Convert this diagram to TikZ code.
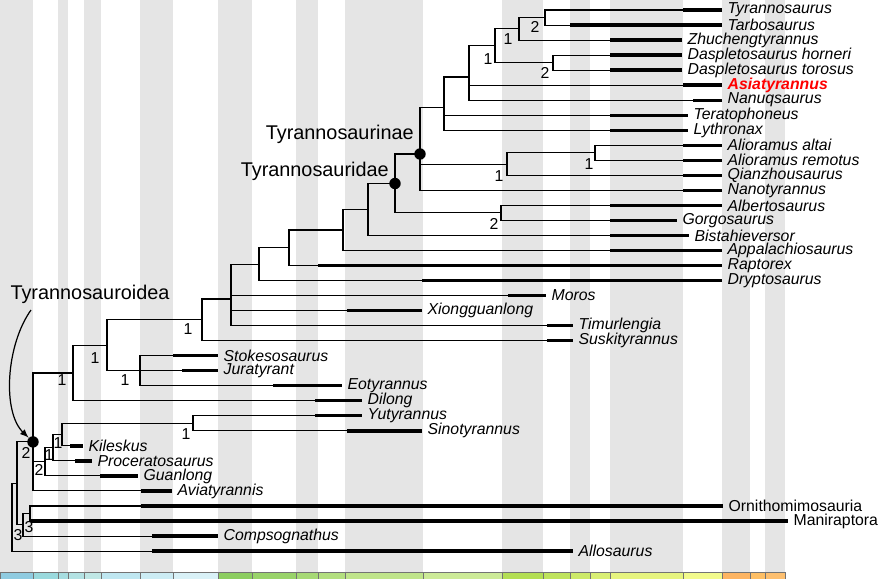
\documentclass[tikz,border=0pt]{standalone}
\usepackage{fontspec}
\setmainfont{Liberation Sans}
\usepackage{tikz}
\usetikzlibrary{positioning}
\usetikzlibrary{arrows}

\definecolor{bandgray}{HTML}{E5E5E5}
\definecolor{asiared}{HTML}{FF0000}
\definecolor{stToa}{HTML}{8FCBE0}
\definecolor{stAal}{HTML}{9AD9DD}
\definecolor{stBaj}{HTML}{A6DDE0}
\definecolor{stBat}{HTML}{B3E2E3}
\definecolor{stCal}{HTML}{BFE7E5}
\definecolor{stOxf}{HTML}{BFE7F1}
\definecolor{stKim}{HTML}{CCECF4}
\definecolor{stTit}{HTML}{D9F1F7}
\definecolor{stBer}{HTML}{8CCD60}
\definecolor{stVal}{HTML}{99D36A}
\definecolor{stHau}{HTML}{A6D975}
\definecolor{stBar}{HTML}{B3DF7F}
\definecolor{stApt}{HTML}{BFE48A}
\definecolor{stAlb}{HTML}{CCEA97}
\definecolor{stCen}{HTML}{B3DE53}
\definecolor{stTur}{HTML}{BFE35D}
\definecolor{stCon}{HTML}{CCE968}
\definecolor{stSan}{HTML}{D9EF74}
\definecolor{stCam}{HTML}{E6F47F}
\definecolor{stMaa}{HTML}{F2FA8C}
\definecolor{stDan}{HTML}{FDB462}
\definecolor{stSel}{HTML}{FEBF65}
\definecolor{stTha}{HTML}{FDBF6F}

\tikzset{
  branch/.style={line width=0.6pt},
  bar/.style={line width=1.9pt},
  taxon/.style={anchor=west, inner sep=3pt, font=\fontsize{9}{10}\selectfont\itshape},
  taxonred/.style={taxon, text=asiared, font=\fontsize{9}{10}\selectfont\bfseries\itshape},
  group/.style={anchor=west, inner sep=3pt, font=\fontsize{9}{10}\selectfont},
  support/.style={inner sep=0pt, font=\fontsize{9}{10}\selectfont},
  cladename/.style={inner sep=0pt, font=\fontsize{11.3}{12}\selectfont},
  cladedot/.style={circle, fill=black, inner sep=0pt, minimum size=6.5pt},
  stage/.style={draw=black!55, line width=0.3pt},
}

\begin{document}
\begin{tikzpicture}[x=0.02cm, y=-0.02cm]
  \useasboundingbox (0,0) rectangle (885,578);
  % stage bands and time scale
  \foreach \a/\b in {0/33, 58/68, 84/101, 140/173, 218/252, 296/318, 345/423, 502/543, 570/590, 610/683, 722/750, 765/785}
    \fill[bandgray] (\a,0) rectangle (\b,572);
  \foreach \a/\b/\c in {0/33/stToa, 33/58/stAal, 58/68/stBaj, 68/84/stBat, 84/101/stCal, 101/140/stOxf, 140/173/stKim, 173/218/stTit, 218/252/stBer, 252/296/stVal, 296/318/stHau, 318/345/stBar, 345/423/stApt, 423/502/stAlb, 502/543/stCen, 543/570/stTur, 570/590/stCon, 590/610/stSan, 610/683/stCam, 683/722/stMaa, 722/750/stDan, 750/765/stSel, 765/785/stTha}
    \draw[stage, fill=\c] (\a,572) rectangle (\b,582);

  % internal nodes
  \coordinate (tyrtarb) at (545,17.5);
  \coordinate (tyrzhu) at (519,28.8);
  \coordinate (daspl) at (553,62.6);
  \coordinate (tyrdasp) at (495,45.7);
  \coordinate (tyrasia) at (469,77.0);
  \coordinate (tyrterato) at (444,107.5);
  \coordinate (alior) at (595,152.8);
  \coordinate (aliorqz) at (507,164.1);
  \coordinate (tyrinae) at (420,154.0);
  \coordinate (albinae) at (501,212.9);
  \coordinate (tyridae) at (395,183.5);
  \coordinate (bistah) at (368,209.5);
  \coordinate (appal) at (343,230.0);
  \coordinate (raptor) at (289,247.8);
  \coordinate (drypto) at (259,264.2);
  \coordinate (moroscl) at (231,299.0);
  \coordinate (susk) at (202,319.8);
  \coordinate (stokes) at (140,370.7);
  \coordinate (core) at (107,345.3);
  \coordinate (dilongcl) at (73,373.0);
  \coordinate (yutsino) at (193,423.3);
  \coordinate (kilesk) at (62,434.6);
  \coordinate (procer) at (53,447.8);
  \coordinate (guanl) at (45,461.8);
  \coordinate (tyroidea) at (33,441.9);
  \coordinate (maniornith) at (30,513.5);
  \coordinate (compsocl) at (23,524.8);
  \coordinate (coelur) at (17,483.4);
  \coordinate (root) at (12,517.2);

  \draw[branch] (tyrzhu) |- (tyrtarb);
  \draw[branch] (tyrdasp) |- (tyrzhu);
  \draw[branch] (tyrdasp) |- (daspl);
  \draw[branch] (tyrasia) |- (tyrdasp);
  \draw[branch] (tyrterato) |- (tyrasia);
  \draw[branch] (tyrinae) |- (tyrterato);
  \draw[branch] (aliorqz) |- (alior);
  \draw[branch] (tyrinae) |- (aliorqz);
  \draw[branch] (tyridae) |- (tyrinae);
  \draw[branch] (tyridae) |- (albinae);
  \draw[branch] (bistah) |- (tyridae);
  \draw[branch] (appal) |- (bistah);
  \draw[branch] (raptor) |- (appal);
  \draw[branch] (drypto) |- (raptor);
  \draw[branch] (moroscl) |- (drypto);
  \draw[branch] (susk) |- (moroscl);
  \draw[branch] (core) |- (susk);
  \draw[branch] (core) |- (stokes);
  \draw[branch] (dilongcl) |- (core);
  \draw[branch] (tyroidea) |- (dilongcl);
  \draw[branch] (kilesk) |- (yutsino);
  \draw[branch] (procer) |- (kilesk);
  \draw[branch] (guanl) |- (procer);
  \draw[branch] (tyroidea) |- (guanl);
  \draw[branch] (coelur) |- (tyroidea);
  \draw[branch] (compsocl) |- (maniornith);
  \draw[branch] (coelur) |- (compsocl);
  \draw[branch] (root) |- (coelur);

  % tips
  \foreach \tname/\row/\up/\bs/\be/\sty/\txt in {
    tyrannosaurus/0/tyrtarb/683/722/taxon/Tyrannosaurus,
    tarbosaurus/1/tyrtarb/570/722/taxon/Tarbosaurus,
    zhuchengtyrannus/2/tyrzhu/610/682/taxon/Zhuchengtyrannus,
    dhorneri/3/daspl/610/682/taxon/Daspletosaurus horneri,
    dtorosus/4/daspl/610/682/taxon/Daspletosaurus torosus,
    asiatyrannus/5/tyrasia/683/722/taxonred/Asiatyrannus,
    nanuqsaurus/6/tyrasia/693/722/taxon/Nanuqsaurus,
    teratophoneus/7/tyrterato/610/688/taxon/Teratophoneus,
    lythronax/8/tyrterato/610/688/taxon/Lythronax,
    altai/9/alior/683/722/taxon/Alioramus altai,
    remotus/10/alior/683/722/taxon/Alioramus remotus,
    qianzhousaurus/11/aliorqz/683/722/taxon/Qianzhousaurus,
    nanotyrannus/12/tyrinae/683/722/taxon/Nanotyrannus,
    albertosaurus/13/albinae/610/722/taxon/Albertosaurus,
    gorgosaurus/14/albinae/610/677/taxon/Gorgosaurus,
    bistahieversor/15/bistah/610/689/taxon/Bistahieversor,
    appalachiosaurus/16/appal/610/722/taxon/Appalachiosaurus,
    raptorex/17/raptor/318/722/taxon/Raptorex,
    dryptosaurus/18/drypto/422/722/taxon/Dryptosaurus,
    moros/19/moroscl/508/546/taxon/Moros,
    xiongguanlong/20/moroscl/347/422/taxon/Xiongguanlong,
    timurlengia/21/moroscl/547/573/taxon/Timurlengia,
    suskityrannus/22/susk/547/573/taxon/Suskityrannus,
    stokesosaurus/23/stokes/173/218/taxon/Stokesosaurus,
    juratyrant/24/stokes/182/218/taxon/Juratyrant,
    eotyrannus/25/stokes/273/342/taxon/Eotyrannus,
    dilong/26/dilongcl/315/362/taxon/Dilong,
    yutyrannus/27/yutsino/315/362/taxon/Yutyrannus,
    sinotyrannus/28/yutsino/347/422/taxon/Sinotyrannus,
    kileskus/29/kilesk/70/83/taxon/Kileskus,
    proceratosaurus/30/procer/75/92/taxon/Proceratosaurus,
    guanlong/31/guanl/100/138/taxon/Guanlong,
    aviatyrannis/32/tyroidea/141/172/taxon/Aviatyrannis,
    ornithomimosauria/33/maniornith/141/723/group/Ornithomimosauria,
    maniraptora/34/maniornith/31/788/group/Maniraptora,
    compsognathus/35/compsocl/152/218/taxon/Compsognathus,
    allosaurus/36/root/152/573/taxon/Allosaurus}{
    \coordinate (\tname-s) at (\bs,{10+15.03*\row});
    \node[\sty] (\tname) at (\be,{10+15.03*\row}) {\txt};
    \draw[branch] (\up) |- (\tname-s);
    \draw[bar] (\tname-s) -- (\tname.west);
  }

  % support values
  \node[support] (sup-tyrtarb) at (535,27) {2};
  \node[support] (sup-tyrzhu) at (508,39) {1};
  \node[support] (sup-tyrdasp) at (488,59) {1};
  \node[support] (sup-daspl) at (545,73) {2};
  \node[support] (sup-alior) at (589,164) {1};
  \node[support] (sup-aliorqz) at (499,176) {1};
  \node[support] (sup-albinae) at (494,224) {2};
  \node[support] (sup-susk) at (188,329) {1};
  \node[support] (sup-core) at (95,358) {1};
  \node[support] (sup-stokes) at (125,380) {1};
  \node[support] (sup-dilongcl) at (62,380) {1};
  \node[support] (sup-yutsino) at (186,434) {1};
  \node[support] (sup-kilesk) at (58,443) {1};
  \node[support] (sup-procer) at (49,455) {1};
  \node[support] (sup-guanl) at (39,470) {2};
  \node[support] (sup-tyroidea) at (26,453) {2};
  \node[support] (sup-maniornith) at (29,527) {3};
  \node[support] (sup-compsocl) at (18,535) {3};

  % clades
  \node[cladedot] (tyrinae-dot) at (tyrinae) {};
  \node[cladedot] (tyridae-dot) at (tyridae) {};
  \node[cladedot] (tyroidea-dot) at (tyroidea) {};
  \node[cladename, anchor=south east, above left=5.7pt and 3.4pt of tyrinae] (lab-tyrinae) {Tyrannosaurinae};
  \node[cladename, anchor=south east, above left=1.4pt and 3.4pt of tyridae] (lab-tyridae) {Tyrannosauridae};
  \node[cladename] (lab-tyroidea) at (90,294) {Tyrannosauroidea};
  \coordinate (arrow-start) at (31,310);
  \draw[-latex, line width=0.7pt] (arrow-start) .. controls (6,345) and (2,412) .. (tyroidea-dot);
\end{tikzpicture}
\end{document}
